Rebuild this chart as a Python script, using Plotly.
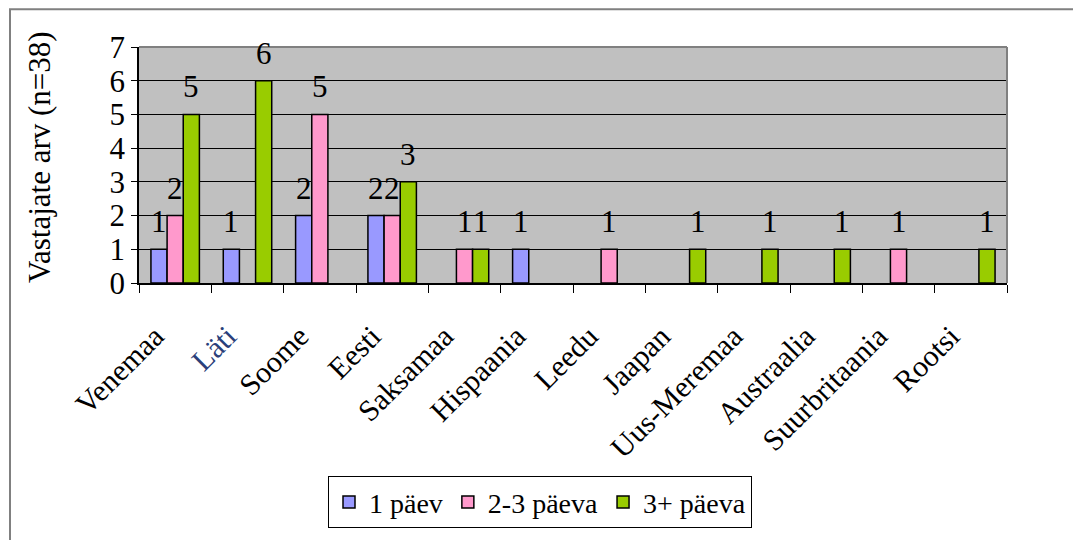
import plotly.graph_objects as go

# Countries and respondent counts per trip length
countries = ["Venemaa", "Läti", "Soome", "Eesti", "Saksamaa", "Hispaania", "Leedu",
             "Jaapan", "Uus-Meremaa", "Austraalia", "Suurbritaania", "Rootsi"]
paev_1 = [1, 1, 2, 2, 0, 1, 0, 0, 0, 0, 0, 0]
paeva_2_3 = [2, 0, 5, 2, 1, 0, 1, 0, 0, 0, 1, 0]
paeva_3_plus = [5, 6, 0, 3, 1, 0, 0, 1, 1, 1, 0, 1]

series = [
    ("1 päev", paev_1, "#9999FF"),
    ("2-3 päeva", paeva_2_3, "#FF99CC"),
    ("3+ päeva", paeva_3_plus, "#99CC00"),
]

W, H = 1073, 540
L, R, T, B = 139, 66, 47, 255
pw, ph = W - L - R, H - T - B

def px_x(p):
    return (p - L) / pw

def px_y(p):
    return (H - B - p) / ph

FONT = "Liberation Serif"
BARGAP = 0.33
bar_w = (1 - BARGAP) / len(series)

fig = go.Figure()
annotations = []
for k, (name, vals, col) in enumerate(series):
    fig.add_trace(go.Bar(
        name=name, x=countries,
        # empty counts get no bar
        y=[v if v else None for v in vals],
        marker=dict(color=col, line=dict(color="black", width=1.5)),
    ))
    # value labels above each non-empty bar
    off = (k - (len(series) - 1) / 2) * bar_w
    for i, v in enumerate(vals):
        if v:
            annotations.append(dict(
                x=i + off, y=v, xref="x", yref="y", text=str(v), showarrow=False,
                xanchor="center", yanchor="bottom", yshift=8,
                font=dict(family=FONT, size=31, color="black"),
            ))

annotations.append(dict(
    text="Vastajate arv (n=38)", textangle=-90, showarrow=False,
    xref="paper", yref="paper", x=px_x(40), xanchor="center",
    y=px_y(287), yanchor="bottom",
    font=dict(family=FONT, size=31, color="black"),
))

ticktext = [c if c != "Läti" else "<span style='color:#2b3f7a'>Läti</span>" for c in countries]

fig.update_layout(
    width=W, height=H,
    margin=dict(l=L, r=R, t=T, b=B),
    paper_bgcolor="white", plot_bgcolor="#C0C0C0",
    barmode="group", bargap=BARGAP, bargroupgap=0,
    font=dict(family=FONT, size=30, color="black"),
    showlegend=True,
    legend=dict(
        orientation="h", x=px_x(540), xanchor="center", y=px_y(480), yanchor="top",
        bordercolor="black", borderwidth=1, bgcolor="white",
        font=dict(family=FONT, size=28), tracegroupgap=0,
    ),
    xaxis=dict(
        tickmode="array", tickvals=countries, ticktext=ticktext,
        tickangle=-45, tickson="boundaries", ticks="outside", ticklen=8,
        tickcolor="black", showline=True, linecolor="black", linewidth=1.5,
        showgrid=False, tickfont=dict(family=FONT, size=30),
        ticklabelstandoff=22, ticklabelshift=-20,
    ),
    yaxis=dict(
        range=[0, 7], dtick=1, ticks="outside", ticklen=6, tickcolor="black",
        showline=True, linecolor="black", linewidth=1.5,
        showgrid=True, gridcolor="black", gridwidth=1, zeroline=False,
        tickfont=dict(family=FONT, size=31),
    ),
    shapes=[
        # plot-area frame (top and right edges)
        dict(type="line", xref="paper", yref="paper", x0=0, x1=1, y0=1, y1=1,
             line=dict(color="#808080", width=2)),
        dict(type="line", xref="paper", yref="paper", x0=1, x1=1, y0=0, y1=1,
             line=dict(color="#808080", width=2)),
        # outer chart border
        dict(type="rect", xref="paper", yref="paper",
             x0=px_x(10), x1=px_x(1085), y0=px_y(560), y1=px_y(9),
             line=dict(color="#808080", width=2)),
    ],
    annotations=annotations,
)

fig.write_html("out.html")
